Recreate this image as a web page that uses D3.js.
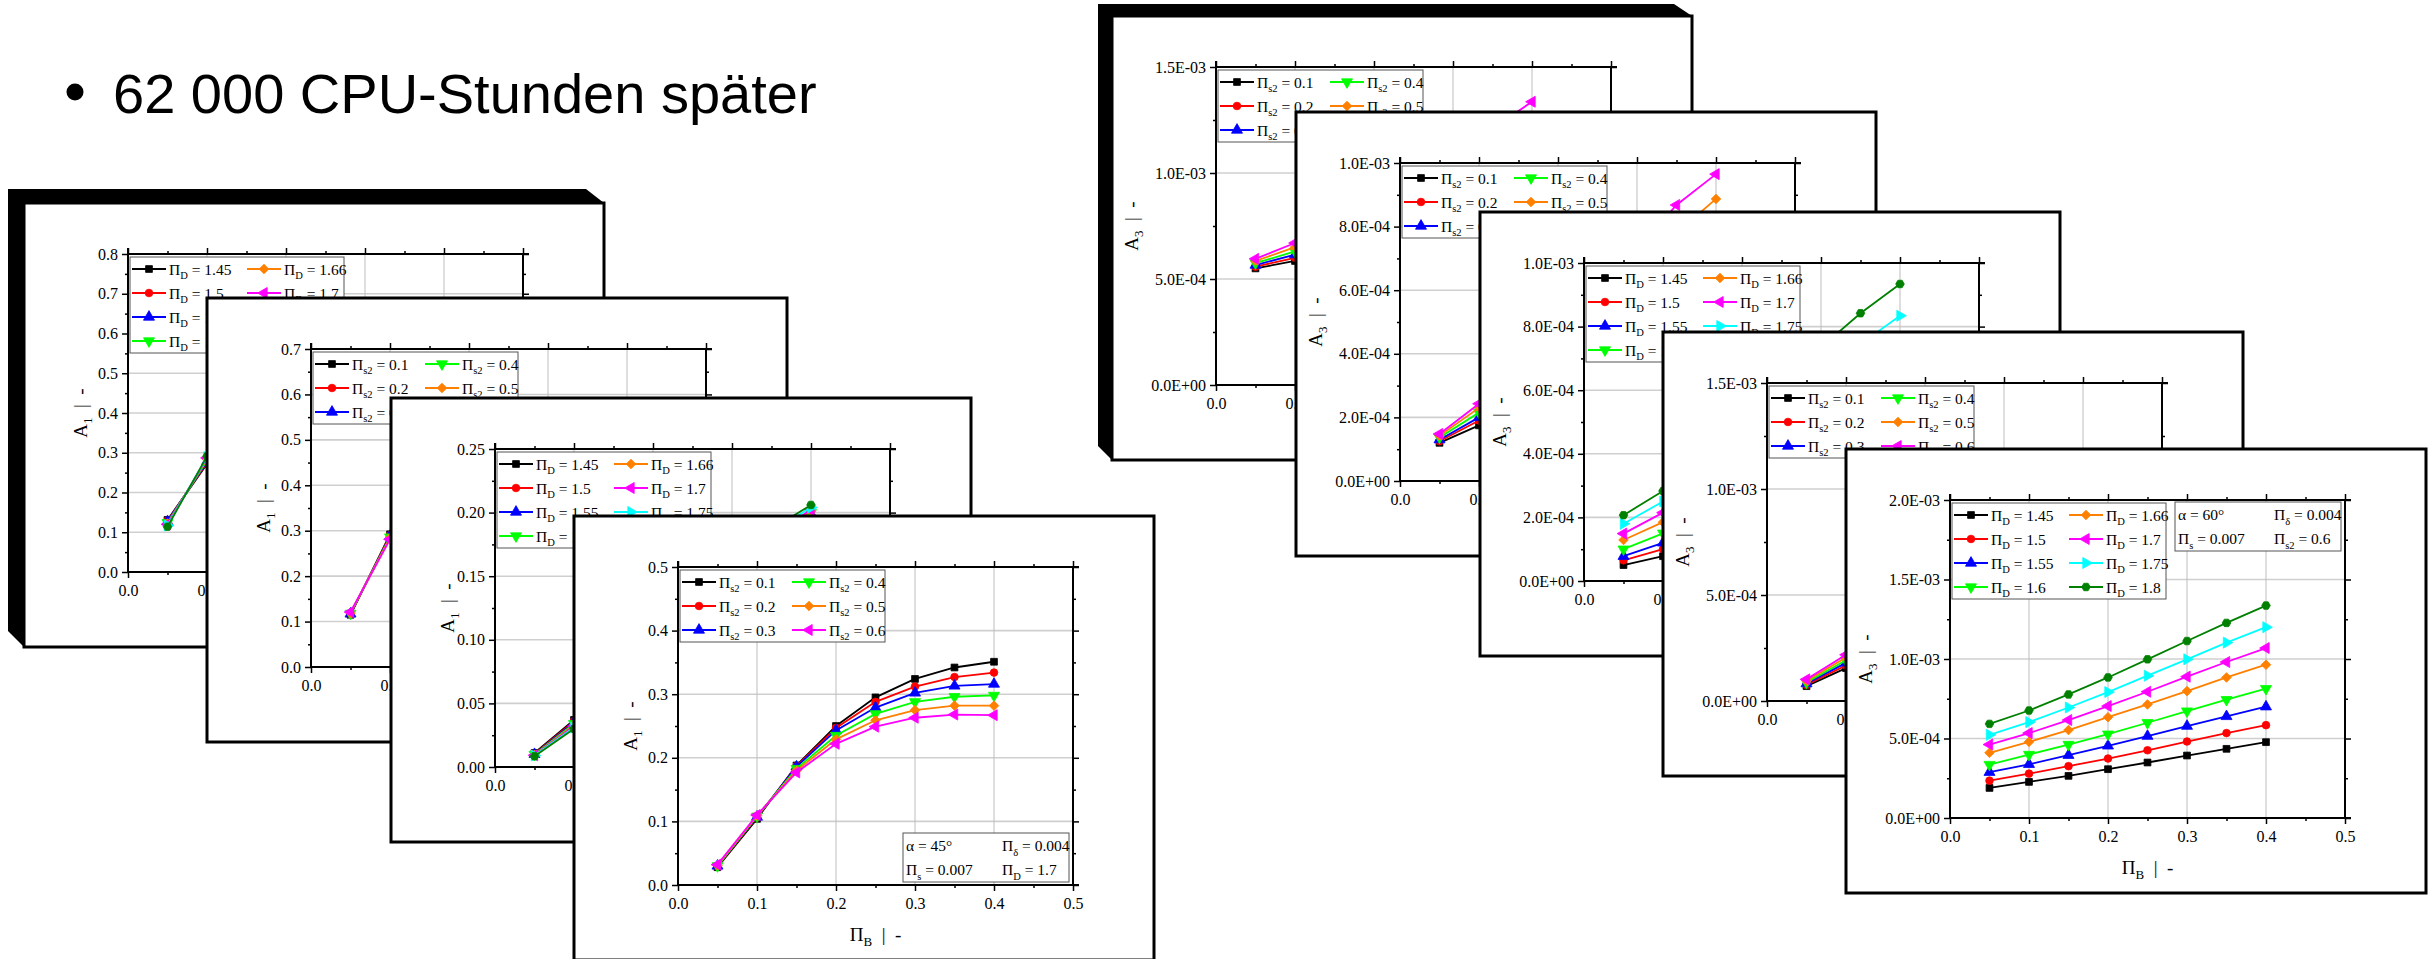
<!DOCTYPE html>
<html><head><meta charset="utf-8">
<script src="https://cdn.jsdelivr.net/npm/d3@7"></script>
<style>html,body{margin:0;padding:0;background:#fff;overflow:hidden}</style>
</head><body>
<svg id="c" width="2435" height="959"></svg>
<script>
// ---------------- DATA ----------------
const titleText = "62 000 CPU-Stunden später";
const xValues = [0.05, 0.10, 0.15, 0.20, 0.25, 0.30, 0.35, 0.40];
const xTicks = [0, 0.1, 0.2, 0.3, 0.4, 0.5];
const piDLabels = ["1.45", "1.5", "1.55", "1.6", "1.66", "1.7", "1.75", "1.8"];
const piS2Labels = ["0.1", "0.2", "0.3", "0.4", "0.5", "0.6"];

// Left stack (A1), back to front
const cardL1_A1 = [
  [0.131, 0.272], [0.129, 0.275], [0.127, 0.278], [0.124, 0.281],
  [0.122, 0.284], [0.120, 0.287], [0.117, 0.289], [0.114, 0.291]
];
const cardL2_A1 = [
  [0.115, 0.292], [0.116, 0.290], [0.117, 0.288],
  [0.118, 0.286], [0.119, 0.284], [0.121, 0.281]
];
const cardL3_A1 = [
  [0.0110, 0.037, 0.066, 0.096, 0.125, 0.152, 0.176, 0.196],
  [0.0105, 0.036, 0.065, 0.095, 0.125, 0.153, 0.178, 0.198],
  [0.0100, 0.035, 0.064, 0.095, 0.125, 0.154, 0.179, 0.199],
  [0.0098, 0.034, 0.063, 0.094, 0.125, 0.154, 0.180, 0.200],
  [0.0095, 0.033, 0.062, 0.094, 0.125, 0.155, 0.181, 0.201],
  [0.0092, 0.032, 0.061, 0.093, 0.125, 0.156, 0.183, 0.202],
  [0.0090, 0.031, 0.060, 0.093, 0.125, 0.157, 0.185, 0.204],
  [0.0085, 0.030, 0.059, 0.092, 0.125, 0.158, 0.187, 0.206]
];
const cardL4_A1 = [
  [0.028, 0.104, 0.188, 0.250, 0.295, 0.324, 0.342, 0.351],
  [0.029, 0.106, 0.187, 0.247, 0.288, 0.312, 0.327, 0.334],
  [0.030, 0.107, 0.186, 0.243, 0.279, 0.302, 0.313, 0.316],
  [0.030, 0.108, 0.183, 0.235, 0.269, 0.288, 0.296, 0.298],
  [0.031, 0.109, 0.180, 0.229, 0.259, 0.275, 0.282, 0.282],
  [0.032, 0.110, 0.177, 0.222, 0.249, 0.263, 0.268, 0.267]
];
// Right stack (A3), back to front
const cardR1_A3 = [
  [5.50e-4, 5.85e-4, 6.35e-4, 6.90e-4, 7.50e-4, 8.20e-4, 9.00e-4, 1.000e-3],
  [5.58e-4, 6.00e-4, 6.60e-4, 7.25e-4, 7.95e-4, 8.75e-4, 9.70e-4, 1.070e-3],
  [5.66e-4, 6.15e-4, 6.85e-4, 7.60e-4, 8.40e-4, 9.30e-4, 1.035e-3, 1.140e-3],
  [5.75e-4, 6.30e-4, 7.10e-4, 7.95e-4, 8.85e-4, 9.85e-4, 1.100e-3, 1.200e-3],
  [5.85e-4, 6.50e-4, 7.35e-4, 8.30e-4, 9.30e-4, 1.040e-3, 1.160e-3, 1.270e-3],
  [5.95e-4, 6.70e-4, 7.60e-4, 8.65e-4, 9.75e-4, 1.095e-3, 1.210e-3, 1.336e-3]
];
const cardR2_A3 = [
  [1.20e-4, 1.75e-4, 2.40e-4, 3.10e-4, 3.85e-4, 4.60e-4, 5.40e-4, 6.20e-4],
  [1.25e-4, 1.90e-4, 2.65e-4, 3.45e-4, 4.30e-4, 5.15e-4, 6.05e-4, 6.95e-4],
  [1.30e-4, 2.00e-4, 2.85e-4, 3.75e-4, 4.70e-4, 5.70e-4, 6.70e-4, 7.70e-4],
  [1.37e-4, 2.15e-4, 3.05e-4, 4.05e-4, 5.10e-4, 6.20e-4, 7.30e-4, 8.30e-4],
  [1.42e-4, 2.30e-4, 3.25e-4, 4.35e-4, 5.50e-4, 6.70e-4, 7.80e-4, 8.87e-4],
  [1.48e-4, 2.43e-4, 3.45e-4, 4.60e-4, 5.90e-4, 7.25e-4, 8.68e-4, 9.65e-4]
];
const cardR3_A3 = [
  [0.50e-4, 0.78e-4, 1.10e-4, 1.45e-4, 1.85e-4, 2.30e-4, 2.80e-4, 3.30e-4],
  [0.65e-4, 1.00e-4, 1.38e-4, 1.80e-4, 2.30e-4, 2.85e-4, 3.45e-4, 4.00e-4],
  [0.78e-4, 1.20e-4, 1.65e-4, 2.15e-4, 2.75e-4, 3.40e-4, 4.10e-4, 4.75e-4],
  [1.00e-4, 1.50e-4, 2.05e-4, 2.65e-4, 3.35e-4, 4.10e-4, 4.95e-4, 5.70e-4],
  [1.29e-4, 1.85e-4, 2.45e-4, 3.15e-4, 3.95e-4, 4.85e-4, 5.80e-4, 6.60e-4],
  [1.49e-4, 2.15e-4, 2.85e-4, 3.60e-4, 4.50e-4, 5.55e-4, 6.60e-4, 7.45e-4],
  [1.80e-4, 2.50e-4, 3.25e-4, 4.10e-4, 5.10e-4, 6.30e-4, 7.45e-4, 8.34e-4],
  [2.07e-4, 2.83e-4, 3.65e-4, 4.60e-4, 5.90e-4, 7.35e-4, 8.42e-4, 9.34e-4]
];
const cardR4_A3 = [
  [0.70e-4, 1.55e-4], [0.76e-4, 1.68e-4], [0.82e-4, 1.80e-4],
  [0.88e-4, 1.92e-4], [0.95e-4, 2.05e-4], [1.02e-4, 2.18e-4]
];
const cardR5_A3 = [
  [1.89e-4, 2.27e-4, 2.65e-4, 3.07e-4, 3.49e-4, 3.93e-4, 4.35e-4, 4.77e-4],
  [2.35e-4, 2.79e-4, 3.26e-4, 3.74e-4, 4.26e-4, 4.81e-4, 5.34e-4, 5.84e-4],
  [2.88e-4, 3.38e-4, 3.95e-4, 4.54e-4, 5.15e-4, 5.78e-4, 6.39e-4, 7.00e-4],
  [3.36e-4, 3.99e-4, 4.62e-4, 5.27e-4, 5.99e-4, 6.72e-4, 7.44e-4, 8.13e-4],
  [4.10e-4, 4.79e-4, 5.53e-4, 6.34e-4, 7.14e-4, 7.98e-4, 8.84e-4, 9.64e-4],
  [4.62e-4, 5.34e-4, 6.16e-4, 7.04e-4, 7.94e-4, 8.89e-4, 9.81e-4, 1.069e-3],
  [5.23e-4, 6.03e-4, 6.95e-4, 7.92e-4, 8.95e-4, 9.98e-4, 1.103e-3, 1.200e-3],
  [5.92e-4, 6.76e-4, 7.77e-4, 8.84e-4, 9.98e-4, 1.113e-3, 1.227e-3, 1.336e-3]
];
const infoL4 = [["α = 45°", "δ", "0.004"], ["s", "0.007", "D", "1.7"]];
const infoR5 = [["α = 60°", "δ", "0.004"], ["s", "0.007", "s2", "0.6"]];

// ---------------- STYLE ----------------
const seriesColors = ["#000000", "#ff0000", "#0000ff", "#00ff00", "#ff8000", "#ff00ff", "#00ffff", "#008000"];
const markerShapes = ["square", "circle", "up", "down", "diamond", "left", "right", "hexagon"];
const SERIF = "'Liberation Serif','Times New Roman',serif";
const CW = 580, CH = 444, PL = 104, PT = 51, PW = 395, PH = 318;

const cards = [
  {stack: "R", x: 1112, y: 16, frame: [14, 12], yMax: 1.5e-3, yStep: 5e-4, fmt: "sci", sub: "3", legend: "s2", data: cardR1_A3},
  {stack: "R", x: 1296, y: 112, yMax: 1e-3, yStep: 2e-4, fmt: "sci", sub: "3", legend: "s2", data: cardR2_A3},
  {stack: "R", x: 1480, y: 212, yMax: 1e-3, yStep: 2e-4, fmt: "sci", sub: "3", legend: "D", data: cardR3_A3},
  {stack: "R", x: 1663, y: 332, yMax: 1.5e-3, yStep: 5e-4, fmt: "sci", sub: "3", legend: "s2", data: cardR4_A3},
  {stack: "R", x: 1846, y: 449, yMax: 2e-3, yStep: 5e-4, fmt: "sci", sub: "3", legend: "D", data: cardR5_A3, info: infoR5, infoTop: true},
  {stack: "L", x: 24, y: 203, frame: [16, 14], yMax: 0.8, yStep: 0.1, fmt: "d1", sub: "1", legend: "D", data: cardL1_A1},
  {stack: "L", x: 207, y: 298, yMax: 0.7, yStep: 0.1, fmt: "d1", sub: "1", legend: "s2", data: cardL2_A1},
  {stack: "L", x: 391, y: 398, yMax: 0.25, yStep: 0.05, fmt: "d2", sub: "1", legend: "D", data: cardL3_A1},
  {stack: "L", x: 574, y: 516, yMax: 0.5, yStep: 0.1, fmt: "d1", sub: "1", legend: "s2", data: cardL4_A1, info: infoL4, infoTop: false}
];

const svg = d3.select("#c");
svg.append("rect").attr("width", 2435).attr("height", 959).attr("fill", "#fff");

// title
svg.append("circle").attr("cx", 75).attr("cy", 92).attr("r", 8.5).attr("fill", "#000");
svg.append("text").attr("x", 113).attr("y", 113)
  .attr("font-family", "'Liberation Sans',Arial,sans-serif").attr("font-size", 56).attr("fill", "#000")
  .text(titleText);

function sciFmt(v) {
  if (Math.abs(v) < 1e-12) return "0.0E+00";
  const [m, e] = v.toExponential(1).split("e");
  const n = +e;
  return m + "E" + (n < 0 ? "-" : "+") + String(Math.abs(n)).padStart(2, "0");
}
function getFmt(f) {
  if (f === "sci") return sciFmt;
  if (f === "d2") return d3.format(".2f");
  return d3.format(".1f");
}

function marker(sel, shape, color, cx, cy) {
  let path, rot = 0;
  const s = 46;
  if (shape === "square") path = d3.symbol(d3.symbolSquare, s)();
  else if (shape === "circle") path = d3.symbol(d3.symbolCircle, s)();
  else if (shape === "diamond") { path = d3.symbol(d3.symbolSquare, s)(); rot = 45; }
  else if (shape === "hexagon") {
    const r = 4.3;
    path = d3.line()(d3.range(6).map(i => [r * Math.cos(Math.PI / 3 * i), r * Math.sin(Math.PI / 3 * i)])) + "Z";
  } else {
    path = d3.symbol(d3.symbolTriangle, s * 1.15)();
    rot = {up: 0, down: 180, left: -90, right: 90}[shape];
  }
  sel.append("path").attr("d", path).attr("fill", color).attr("stroke", color).attr("stroke-width", 0.8)
    .attr("transform", `translate(${cx},${cy}) rotate(${rot})`);
}

function piLabel(t, sub, rest, fs) {
  t.append("tspan").text("Π");
  t.append("tspan").attr("font-size", fs * 0.68).attr("dy", fs * 0.3).text(sub);
  t.append("tspan").attr("font-size", fs).attr("dy", -fs * 0.3).text(rest);
}

function styleAxis(sel) {
  sel.attr("font-family", SERIF).attr("font-size", 16);
  sel.select(".domain").remove();
  sel.selectAll(".tick line").attr("stroke", "#000").attr("stroke-width", 1.5);
  sel.selectAll(".tick text").attr("fill", "#000");
}

function drawCard(cfg) {
  const g = svg.append("g").attr("transform", `translate(${cfg.x},${cfg.y})`);
  cfg.node = g.node();
  if (cfg.frame) {
    const [dx, dy] = cfg.frame;
    g.append("polygon")
      .attr("points", [[-dx, -dy], [CW - 18, -dy], [CW, 0], [CW, CH], [0, CH], [-dx, CH - dx]].map(p => p.join(",")).join(" "))
      .attr("fill", "#000");
  }
  g.append("rect").attr("width", CW).attr("height", CH).attr("fill", "#fff")
    .attr("stroke", "#000").attr("stroke-width", 3);

  const p = g.append("g").attr("transform", `translate(${PL},${PT})`);
  const x = d3.scaleLinear().domain([0, 0.5]).range([0, PW]);
  const y = d3.scaleLinear().domain([0, cfg.yMax]).range([PH, 0]);
  const yt = d3.range(0, cfg.yMax + cfg.yStep / 2, cfg.yStep);
  const ytMinor = d3.range(cfg.yStep / 2, cfg.yMax, cfg.yStep);
  const xtMinor = d3.range(0.05, 0.5, 0.1);

  // grid
  p.append("g").selectAll("line").data(yt.slice(1, -1)).join("line")
    .attr("x1", 0).attr("x2", PW).attr("y1", d => y(d)).attr("y2", d => y(d))
    .attr("stroke", "#cfcfcf").attr("stroke-width", 1.6);
  p.append("g").selectAll("line").data(xTicks.slice(1, -1)).join("line")
    .attr("y1", 0).attr("y2", PH).attr("x1", d => x(d)).attr("x2", d => x(d))
    .attr("stroke", "#bdbdbd").attr("stroke-width", 1);

  const fmt = getFmt(cfg.fmt);
  // major axes
  p.append("g").call(d3.axisLeft(y).tickValues(yt).tickSize(6).tickPadding(4).tickFormat(fmt)).call(styleAxis);
  p.append("g").attr("transform", `translate(0,${PH})`)
    .call(d3.axisBottom(x).tickValues(xTicks).tickSize(6).tickPadding(7).tickFormat(d3.format(".1f"))).call(styleAxis);
  p.append("g").call(d3.axisTop(x).tickValues(xTicks).tickSize(6).tickFormat(() => "")).call(styleAxis);
  p.append("g").attr("transform", `translate(${PW},0)`)
    .call(d3.axisRight(y).tickValues(yt).tickSize(6).tickFormat(() => "")).call(styleAxis);
  // minor
  p.append("g").call(d3.axisLeft(y).tickValues(ytMinor).tickSize(3).tickFormat(() => "")).call(styleAxis);
  p.append("g").attr("transform", `translate(0,${PH})`)
    .call(d3.axisBottom(x).tickValues(xtMinor).tickSize(3).tickFormat(() => "")).call(styleAxis);
  p.append("g").call(d3.axisTop(x).tickValues(xtMinor).tickSize(3).tickFormat(() => "")).call(styleAxis);
  p.append("g").attr("transform", `translate(${PW},0)`)
    .call(d3.axisRight(y).tickValues(ytMinor).tickSize(3).tickFormat(() => "")).call(styleAxis);
  // axis lines
  const al = p.append("g").attr("stroke", "#000").attr("stroke-width", 2);
  al.append("line").attr("x1", 0).attr("x2", 0).attr("y1", -6).attr("y2", PH);
  al.append("line").attr("x1", 0).attr("x2", PW + 6).attr("y1", PH).attr("y2", PH);
  al.append("line").attr("x1", 0).attr("x2", PW + 6).attr("y1", 0).attr("y2", 0);
  al.append("line").attr("x1", PW).attr("x2", PW).attr("y1", 0).attr("y2", PH);

  // axis titles
  const yTitleX = cfg.fmt === "sci" ? -78 : -41;
  const yTitle = p.append("text").attr("font-family", SERIF).attr("font-size", 19).attr("fill", "#000")
    .attr("text-anchor", "middle").attr("transform", `translate(${yTitleX},${PH / 2}) rotate(-90)`);
  yTitle.append("tspan").text("A");
  yTitle.append("tspan").attr("font-size", 13).attr("dy", 5).text(cfg.sub);
  yTitle.append("tspan").attr("font-size", 19).attr("dy", -5).text("\u00A0\u00A0|\u00A0\u00A0-");
  const xTitle = p.append("text").attr("font-family", SERIF).attr("font-size", 19).attr("fill", "#000")
    .attr("text-anchor", "middle").attr("x", PW / 2).attr("y", PH + 56);
  xTitle.append("tspan").text("Π");
  xTitle.append("tspan").attr("font-size", 13).attr("dy", 5).text("B");
  xTitle.append("tspan").attr("font-size", 19).attr("dy", -5).text("\u00A0\u00A0|\u00A0\u00A0-");

  // legend
  const isD = cfg.legend === "D";
  const labels = isD ? piDLabels : piS2Labels;
  const rows = isD ? 4 : 3;
  const lw = isD ? 214 : 205, colOff = isD ? 115 : 110;
  const lg = p.append("g").attr("transform", "translate(2,3)");
  lg.append("rect").attr("width", lw).attr("height", rows * 24).attr("fill", "#fff")
    .attr("stroke", "#555").attr("stroke-width", 1);
  labels.forEach((lab, i) => {
    const cx = Math.floor(i / rows) * colOff, cy = 12 + (i % rows) * 24;
    lg.append("line").attr("x1", cx + 2).attr("x2", cx + 36).attr("y1", cy).attr("y2", cy)
      .attr("stroke", seriesColors[i]).attr("stroke-width", 2);
    marker(lg, markerShapes[i], seriesColors[i], cx + 19, cy);
    const t = lg.append("text").attr("x", cx + 39).attr("y", cy + 5.5)
      .attr("font-family", SERIF).attr("font-size", 15.5).attr("fill", "#000");
    piLabel(t, isD ? "D" : "s2", " = " + lab, 15.5);
  });

  // info box
  if (cfg.info) {
    const ib = p.append("g").attr("transform", `translate(225,${cfg.infoTop ? 2 : 266})`);
    ib.append("rect").attr("width", 166).attr("height", 49).attr("fill", "#fff")
      .attr("stroke", "#555").attr("stroke-width", 1);
    const fs = 15.5;
    const [r1, r2] = cfg.info;
    ib.append("text").attr("x", 3).attr("y", 18).attr("font-family", SERIF).attr("font-size", fs).text(r1[0]);
    piLabel(ib.append("text").attr("x", 99).attr("y", 18).attr("font-family", SERIF).attr("font-size", fs), r1[1], " = " + r1[2], fs);
    piLabel(ib.append("text").attr("x", 3).attr("y", 42).attr("font-family", SERIF).attr("font-size", fs), r2[0], " = " + r2[1], fs);
    piLabel(ib.append("text").attr("x", 99).attr("y", 42).attr("font-family", SERIF).attr("font-size", fs), r2[2], " = " + r2[3], fs);
  }

  // series
  const line = d3.line().x(d => x(d[0])).y(d => y(d[1]));
  cfg.data.forEach((vals, i) => {
    const pts = vals.map((v, k) => [xValues[k], v]);
    p.append("path").attr("d", line(pts)).attr("fill", "none")
      .attr("stroke", seriesColors[i]).attr("stroke-width", 1.8);
    const mg = p.append("g");
    pts.forEach(d => marker(mg, markerShapes[i], seriesColors[i], x(d[0]), y(d[1])));
  });
}

cards.forEach(drawCard);

// Texts of a back card that lie entirely under a card in front of it are never seen: drop them.
cards.forEach((c, i) => {
  const covers = cards.filter((o, j) => j > i && o.stack === c.stack);
  d3.select(c.node).selectAll("text").each(function () {
    const b = this.getBoundingClientRect();
    if (b.width === 0) return;
    const hidden = covers.some(o => b.left >= o.x && b.right <= o.x + CW && b.top >= o.y && b.bottom <= o.y + CH);
    if (hidden) this.remove();
  });
});
</script>
</body></html>
